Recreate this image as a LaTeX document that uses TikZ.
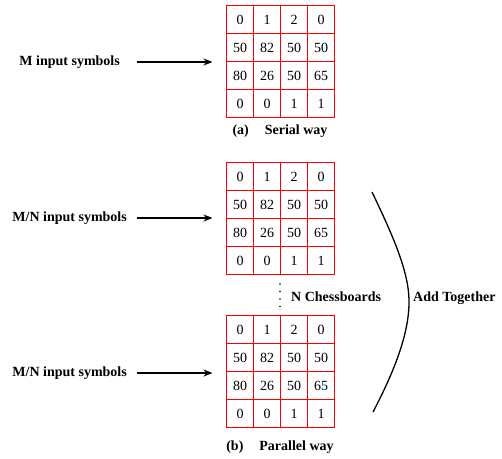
\documentclass[tikz,border=0pt]{standalone}
\usepackage{fontspec}
\setmainfont{Liberation Serif}
\usetikzlibrary{arrows.meta}
\begin{document}
\begin{tikzpicture}[x=1pt,y=-1pt,
  lbl/.style={font=\fontsize{14}{16}\selectfont\bfseries, inner sep=0pt},
  num/.style={font=\fontsize{14}{16}\selectfont, inner sep=0pt},
  grid/.style={draw=red, line width=1pt},
  arr/.style={-{Stealth[length=9pt,width=7pt]}, line width=1.2pt}]
\useasboundingbox (0,0) rectangle (502,458);
\newcommand{\chess}[3]{% name, left x, top y
  \begin{scope}[shift={(#2,#3)}]
    \draw[grid] (0,0) rectangle (108,112);
    \foreach \i in {1,2,3} {\draw[grid] (\i*27,0) -- (\i*27,112);}
    \foreach \j in {1,2,3} {\draw[grid] (0,\j*28) -- (108,\j*28);}
    \coordinate (#1) at (0,56);
    \foreach \r/\a/\b/\c/\d in {0/0/1/2/0,1/50/82/50/50,2/80/26/50/65,3/0/0/1/1} {
      \node[num] at (13.5,\r*28+14) {\a};
      \node[num] at (40.5,\r*28+14) {\b};
      \node[num] at (67.5,\r*28+14) {\c};
      \node[num] at (94.5,\r*28+14) {\d};
    }
  \end{scope}}
\chess{g1}{226.5}{5.5}
\chess{g2}{226.5}{162.5}
\chess{g3}{226.5}{315.5}
\node[lbl, anchor=east] (t1) at (120,62) {M input symbols};
\node[lbl, anchor=east] (t2) at (127,218) {M/N input symbols};
\node[lbl, anchor=east] (t3) at (127,373) {M/N input symbols};
\coordinate (s1) at (137,62);
\coordinate (s2) at (137,218);
\coordinate (s3) at (137,373);
\draw[arr] (s1) -- ([xshift=-14pt]g1 |- s1);
\draw[arr] (s2) -- ([xshift=-14pt]g2 |- s2);
\draw[arr] (s3) -- ([xshift=-14pt]g3 |- s3);
\node[lbl] (ca) at (280,131) {(a)\hspace{16pt}Serial way};
\node[lbl] (cb) at (280,447) {(b)\hspace{16pt}Parallel way};
\foreach \y in {284,291.5,299,306.5} {\fill (280,\y) circle (0.9pt);}
\node[lbl, anchor=west] (nc) at (291,297) {N Chessboards};
\coordinate (c1) at (372,192);
\coordinate (c2) at (373,412);
\draw[line width=1.3pt] (c1) .. controls (395,240) and (410,275) .. (409,305)
  .. controls (408,335) and (395,370) .. (c2);
\node[lbl, anchor=west] (at) at (413,298) {Add Together};
\end{tikzpicture}
\end{document}
